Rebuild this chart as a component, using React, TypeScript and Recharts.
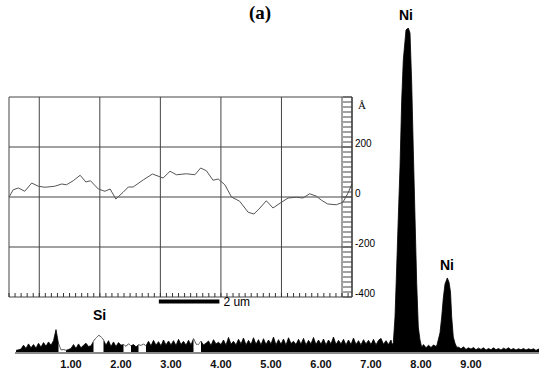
import React from "react";
import {
  AreaChart,
  Area,
  LineChart,
  Line,
  XAxis,
  YAxis,
  CartesianGrid,
  ReferenceDot,
  ReferenceLine,
} from "recharts";

// EDS spectrum: background channels every 0.05 keV starting at -0.10 keV
const BG_START = -0.1;
const BG_STEP = 0.05;
const BACKGROUND = [
  0.8, 1.0,
  1.2, 2.4, 1.4, 2.8, 1.6, 2.6, 1.5, 3.0, 1.8, 3.2, 2.1, 3.4, 2.4, 3.8, 7.2, 2.8, 0.9, 1.0, 0.8, 1.1,
  1.4, 2.6, 1.4, 2.8, 1.6, 2.4, 3.0, 2.0, 2.2, 3.6, 4.6, 5.4, 5.0, 4.0, 2.4, 3.8, 2.0, 3.4, 2.0, 3.2,
  2.4, 2.6, 2.0, 2.8, 2.2, 2.6, 1.9, 2.5, 2.3, 2.7, 2.2, 3.6, 2.2, 3.9, 2.4, 3.5, 2.2, 4.0, 2.5, 3.7,
  2.5, 3.8, 2.3, 4.2, 2.6, 3.6, 2.4, 3.9, 2.5, 4.4, 2.7, 2.6, 3.6, 2.5, 3.0, 3.7, 2.3, 4.1, 2.8, 3.3,
  2.6, 4.0, 2.4, 4.8, 2.7, 3.6, 2.5, 4.2, 2.8, 4.6, 2.5, 3.9, 2.6, 4.7, 2.7, 4.1, 2.5, 4.4, 2.6, 4.0,
  2.8, 4.9, 2.5, 4.1, 2.7, 4.3, 2.4, 4.7, 2.9, 3.6, 2.6, 4.2, 2.7, 4.5, 2.5, 3.9, 2.8, 4.8, 2.6, 4.0,
  2.7, 4.3, 2.5, 4.0, 2.8, 4.9, 2.6, 3.9, 2.8, 4.2, 2.5, 4.0, 2.6, 4.6, 2.6, 3.8, 2.5, 4.1, 2.8, 3.9,
  2.6, 4.2, 2.5, 3.9, 4.5, 2.7, 3.8, 2.6, 4.0, 2.7, 3.0, 3.0, 3.0, 3.0, 3.0, 3.0, 3.0, 2.8, 2.6, 2.4,
  2.0, 2.6, 1.6, 2.4, 1.7, 2.5, 2.0, 2.0, 2.0, 2.0, 2.0, 2.0, 2.0, 2.0, 2.0, 1.8, 1.3, 1.9, 1.1, 1.6,
  1.2, 1.7, 1.0, 1.5, 1.1, 1.6, 0.9, 1.4, 1.0, 1.6, 1.0, 1.4, 0.9, 1.5, 1.1, 1.6, 1.0, 1.4, 0.9, 1.3,
  1.0, 1.4, 0.9, 1.3, 1.0, 1.3, 0.8, 1.2, 0.9,
];

// regions of interest drawn open (white) over the background
const ROI_WINDOWS = [
  [0.75, 0.9],
  [1.45, 1.65],
  [2.05, 2.2],
  [2.35, 2.5],
  [3.45, 3.6],
];

const NI_KA_E = [7.42, 7.446, 7.48, 7.514, 7.546, 7.58, 7.614, 7.646, 7.7, 7.746, 7.78, 7.814, 7.846, 7.88, 7.914, 7.946, 7.98, 8.014];
const NI_KA_C = [2.6, 3.1, 11.1, 26.5, 41.8, 57.2, 77.8, 90.2, 99.4, 100, 98.5, 83.1, 62.5, 41.8, 21.5, 8.0, 4.0, 1.8];
const NI_KB_E = [8.3, 8.32, 8.38, 8.414, 8.446, 8.48, 8.526, 8.56, 8.59, 8.614, 8.646, 8.68, 8.714];
const NI_KB_C = [2.0, 2.5, 6.2, 11.1, 16.9, 21.2, 23.1, 21.8, 18.8, 11.1, 4.9, 3.0, 1.8];

const E_TICKS = [1, 2, 3, 4, 5, 6, 7, 8, 9];

// inset height profile (um, Angstrom)
const PROFILE_X = [0, 0.14, 0.31, 0.52, 0.75, 0.97, 1.19, 1.51, 1.74, 1.9, 2.12, 2.35, 2.54, 2.69, 2.95, 3.17, 3.34, 3.53, 3.77, 3.94, 4.1, 4.44, 4.74, 5.09, 5.32, 5.53, 5.86, 6.14, 6.33, 6.52, 6.74, 6.91, 7.13, 7.35, 7.62, 7.9, 8.09, 8.29, 8.5, 8.72, 9.0, 9.22, 9.49, 9.71, 9.93, 10.16, 10.32, 10.53, 10.81, 11.03, 11.2, 11.33];
const PROFILE_Y = [0, 29, 36, 23, 56, 43, 39, 43, 52, 49, 65, 87, 60, 65, 32, 23, 32, -8, 19, 40, 40, 69, 92, 76, 103, 89, 93, 89, 116, 105, 67, 72, 49, 0, -17, -61, -68, -44, -15, -44, -21, -4, -1, -4, 13, 3, -13, -28, -31, -21, 16, 53];

const GRID_X = [0, 1, 3, 5, 7, 9, 11];
const GRID_Y = [-400, -200, 0, 200, 400];
const RULER_X = Array.from({ length: 57 }, (_, i) => +(i * 0.2).toFixed(1));
const MINOR_Y = Array.from({ length: 41 }, (_, i) => -400 + i * 20);

const buildSpectrum = () => {
  const windows = [
    [NI_KA_E[0], NI_KA_E[NI_KA_E.length - 1]],
    [NI_KB_E[0], NI_KB_E[NI_KB_E.length - 1]],
  ];
  const pts: { e: number; c: number; roi?: number | null }[] = [];
  BACKGROUND.forEach((c, i) => {
    const e = +(BG_START + i * BG_STEP).toFixed(2);
    if (windows.some(([a, b]) => e >= a && e <= b)) return;
    const inRoi = ROI_WINDOWS.some(([a, b]) => e >= a - 1e-6 && e <= b + 1e-6);
    pts.push({ e, c, roi: inRoi ? c : null });
  });
  NI_KA_E.forEach((e, i) => pts.push({ e, c: NI_KA_C[i], roi: null }));
  NI_KB_E.forEach((e, i) => pts.push({ e, c: NI_KB_C[i], roi: null }));
  return pts.sort((a, b) => a.e - b.e);
};

const spectrum = buildSpectrum();
const profile = PROFILE_X.map((x, i) => ({ x, y: PROFILE_Y[i] }));

const SANS = "'Liberation Sans', Arial, sans-serif";
const SERIF = "'Liberation Serif', 'Times New Roman', serif";

const peakLabel = (value: string, offset: number) => ({
  value,
  position: "top" as const,
  offset,
  fontSize: 14,
  fontWeight: "bold",
  fill: "#000",
  fontFamily: SANS,
});

// right scale of the inset: minor dashes every 20 A, numbers every 200 A
const RightTick = (props: any) => {
  const { x, y, payload } = props;
  const v = payload.value;
  const axisX = x - 3;
  let text = null;
  if (v === 400) {
    text = (
      <text x={x + 3} y={y + 8} dy="0.35em" fontSize={11} fontFamily={SERIF} fill="#000">
        Å
      </text>
    );
  } else if (v % 200 === 0) {
    text = (
      <text x={x} y={y - 4} dy="0.35em" fontSize={10} fontFamily={SANS} fill="#000">
        {v}
      </text>
    );
  }
  return (
    <g>
      <line x1={axisX - 9} x2={axisX} y1={y} y2={y} stroke="#444" strokeWidth={1} />
      {text}
    </g>
  );
};

const NoLabel = () => <g />;

export default function App() {
  return (
    <div style={{ position: "absolute", left: 0, top: 0, width: 539, height: 373, background: "#fff" }}>
      <div style={{ position: "absolute", left: 0, top: 0 }}>
        <AreaChart width={539} height={373} data={spectrum} margin={{ top: 28, right: 0, bottom: 0, left: 15 }}>
          <XAxis
            dataKey="e"
            type="number"
            domain={[-0.12, 10.36]}
            allowDataOverflow
            ticks={E_TICKS}
            interval={0}
            tickFormatter={(v: number) => v.toFixed(2)}
            height={20}
            tickLine={false}
            tickSize={0}
            tickMargin={7}
            axisLine={{ stroke: "#8a8a8a", strokeWidth: 2 }}
            tick={{ fontSize: 11, fontWeight: "bold", fill: "#111", fontFamily: SANS }}
          />
          <YAxis hide domain={[0, 100]} allowDataOverflow />
          <Area
            dataKey="c"
            type="linear"
            stroke="#000"
            strokeWidth={0.8}
            fill="#000"
            fillOpacity={1}
            baseValue={0}
            dot={false}
            activeDot={false}
            isAnimationActive={false}
          />
          <Area
            dataKey="roi"
            type="linear"
            stroke="#666"
            strokeWidth={1}
            strokeDasharray="1 1"
            fill="#fff"
            fillOpacity={1}
            baseValue={0}
            connectNulls={false}
            dot={false}
            activeDot={false}
            isAnimationActive={false}
          />
          <ReferenceDot x={7.7} y={100} r={0} stroke="none" ifOverflow="visible" label={peakLabel("Ni", 8)} />
          <ReferenceDot x={8.52} y={23.1} r={0} stroke="none" ifOverflow="visible" label={peakLabel("Ni", 8)} />
          <ReferenceDot x={1.57} y={5.4} r={0} stroke="none" ifOverflow="visible" label={peakLabel("Si", 15)} />
        </AreaChart>
      </div>
      <div style={{ position: "absolute", left: 0, top: 0 }}>
        <LineChart width={400} height={320} data={profile} margin={{ top: 97, right: 0, bottom: 23, left: 9 }}>
          <CartesianGrid xAxisId="g" yAxisId="gy" stroke="#444" strokeWidth={1} />
          <XAxis xAxisId="g" dataKey="x" type="number" domain={[0, 11.33]} ticks={GRID_X} hide />
          <YAxis yAxisId="gy" dataKey="y" type="number" domain={[-400, 400]} ticks={GRID_Y} interval={0} hide />
          <XAxis
            xAxisId="r"
            dataKey="x"
            type="number"
            domain={[0, 11.33]}
            ticks={RULER_X}
            interval={0}
            mirror
            tickSize={4}
            tick={NoLabel}
            axisLine={false}
            tickLine={{ stroke: "#333" }}
          />
          <YAxis
            yAxisId="v"
            orientation="right"
            width={48}
            domain={[-400, 400]}
            ticks={MINOR_Y}
            interval={0}
            tickLine={false}
            tickSize={0}
            tickMargin={3}
            axisLine={{ stroke: "#222" }}
            tick={<RightTick />}
          />
          <Line
            xAxisId="g"
            yAxisId="v"
            dataKey="y"
            type="linear"
            stroke="#555"
            strokeWidth={1}
            dot={false}
            activeDot={false}
            isAnimationActive={false}
          />
          <ReferenceLine
            xAxisId="g"
            yAxisId="v"
            segment={[{ x: 4.95, y: -418 }, { x: 6.95, y: -418 }]}
            ifOverflow="visible"
            stroke="#000"
            strokeWidth={4}
            label={{ value: "2 um", position: "right", offset: 4, fontSize: 12, fill: "#000", fontFamily: SANS }}
          />
        </LineChart>
      </div>
      <div
        style={{
          position: "absolute",
          left: 238,
          top: 2,
          width: 44,
          textAlign: "center",
          fontFamily: SERIF,
          fontWeight: "bold",
          fontSize: 19,
          lineHeight: "22px",
        }}
      >
        (a)
      </div>
    </div>
  );
}
